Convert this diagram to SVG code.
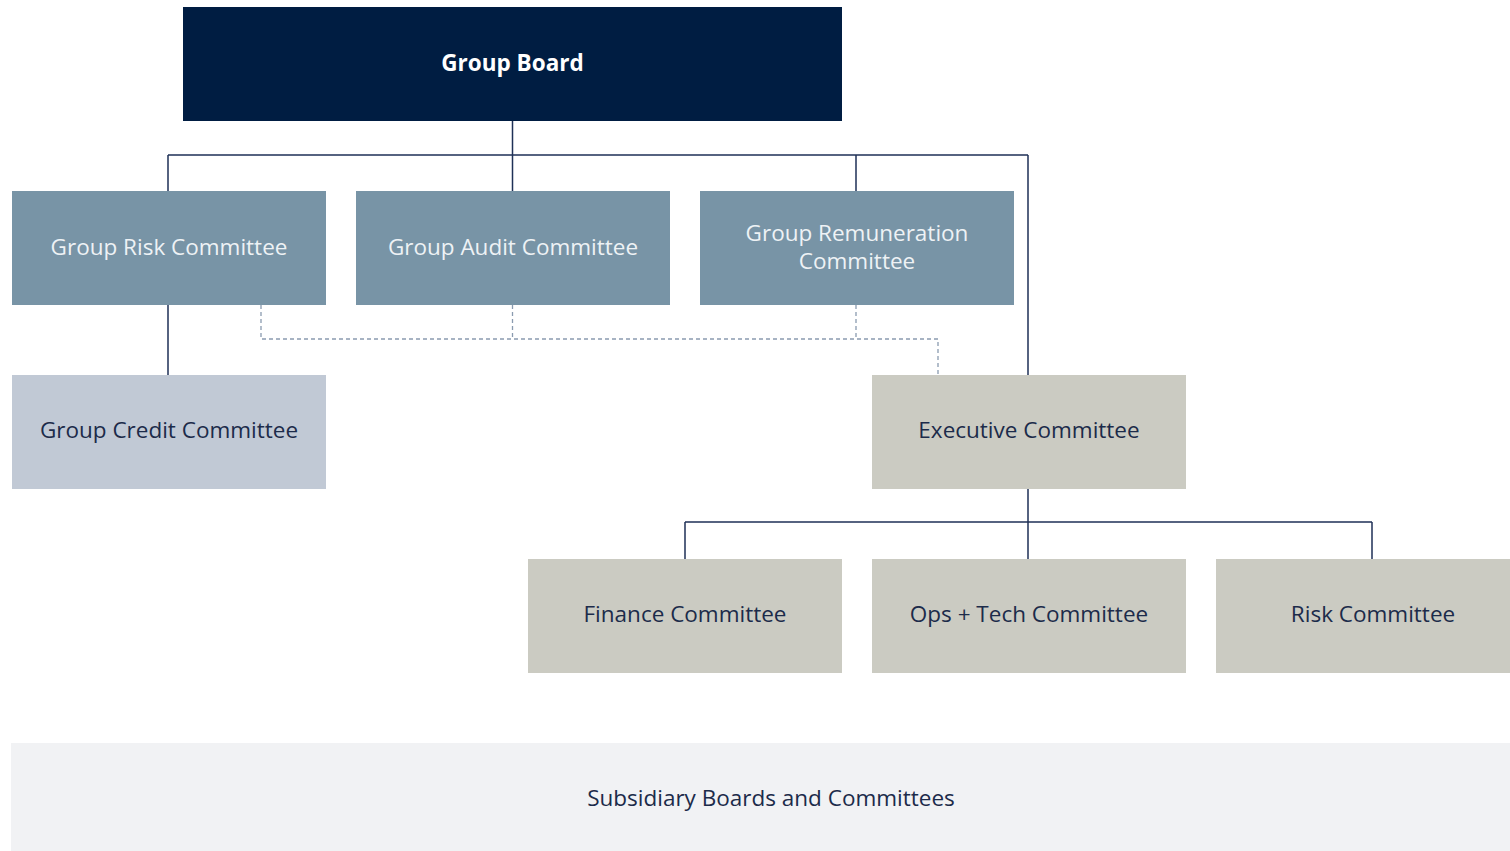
<svg xmlns="http://www.w3.org/2000/svg" width="1510" height="851" viewBox="0 0 1510 851">
<style>
text{font-family:"Open Sans","Noto Sans",sans-serif;font-size:22.5px;text-anchor:middle;dominant-baseline:central}
.lt{fill:#eef2f5}
.dk{fill:#1c2b4a}
.solid{stroke:#1f3157;stroke-width:1.5;fill:none}
.dash{stroke:#8a9bb0;stroke-width:1.3;fill:none;stroke-dasharray:4 3}
</style>
<rect width="1510" height="851" fill="#ffffff"/>
<g id="connectors">
<path class="solid" d="M512.5 121V191M168 155H1028M168 155V191M856 155V191M1028 155V375M168 305V375M1028 489V559M685 522H1372M685 522V559M1372 522V559"/>
<path class="dash" d="M261 305V339H938V375M512.5 305V339M856 305V339"/>
</g>
<g id="group-board"><rect x="183" y="7" width="659" height="114" fill="#001d42"/><text x="512.5" y="62" fill="#ffffff" font-weight="bold" font-size="23">Group Board</text></g>
<g id="group-risk"><rect x="12" y="191" width="314" height="114" fill="#7894a6"/><text class="lt" x="169" y="246">Group Risk Committee</text></g>
<g id="group-audit"><rect x="356" y="191" width="314" height="114" fill="#7894a6"/><text class="lt" x="513" y="246">Group Audit Committee</text></g>
<g id="group-remuneration"><rect x="700" y="191" width="314" height="114" fill="#7894a6"/><text class="lt" x="857" y="232">Group Remuneration</text><text class="lt" x="857" y="260">Committee</text></g>
<g id="group-credit"><rect x="12" y="375" width="314" height="114" fill="#c1c9d5"/><text class="dk" x="169" y="429">Group Credit Committee</text></g>
<g id="executive"><rect x="872" y="375" width="314" height="114" fill="#cbcbc2"/><text class="dk" x="1029" y="429">Executive Committee</text></g>
<g id="finance"><rect x="528" y="559" width="314" height="114" fill="#cbcbc2"/><text class="dk" x="685" y="613">Finance Committee</text></g>
<g id="ops-tech"><rect x="872" y="559" width="314" height="114" fill="#cbcbc2"/><text class="dk" x="1029" y="613">Ops + Tech Committee</text></g>
<g id="risk"><rect x="1216" y="559" width="294" height="114" fill="#cbcbc2"/><text class="dk" x="1373" y="613">Risk Committee</text></g>
<g id="subsidiary"><rect x="11" y="743" width="1499" height="108" fill="#f1f2f4"/><text class="dk" x="771" y="797">Subsidiary Boards and Committees</text></g>
</svg>
